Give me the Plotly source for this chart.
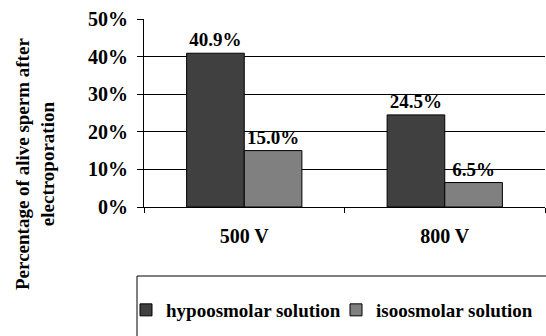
import plotly.graph_objects as go

categories = ["500 V", "800 V"]
hypo = [40.9, 24.5]
iso = [15.0, 6.5]
series_names = ["hypoosmolar solution", "isoosmolar solution"]
ytick_vals = [0, 10, 20, 30, 40, 50]
ytick_text = ["0%", "10%", "20%", "30%", "40%", "50%"]

FONT = "'Liberation Serif', 'DejaVu Serif', 'Times New Roman', serif"
W, H = 546, 336
L, R, T, B = 144, 1, 19, 129
pw, ph = W - L - R, H - T - B

def px(x):
    return (x - L) / pw

def py(y):
    return (H - B - y) / ph

fig = go.Figure()
for name, vals, col in [(series_names[0], hypo, "#404040"), (series_names[1], iso, "#808080")]:
    fig.add_trace(go.Bar(
        x=categories, y=vals, name=name,
        marker=dict(color=col, line=dict(color="#000000", width=1)),
        texttemplate="%{y:.1f}%", textposition="outside",
        textfont=dict(family=FONT, size=19, color="#000000", weight="bold"),
        cliponaxis=False,
    ))

fig.update_layout(
    width=W, height=H,
    margin=dict(l=L, r=R, t=T, b=B),
    paper_bgcolor="white", plot_bgcolor="white",
    barmode="group", bargap=0.425, bargroupgap=0,
    font=dict(family=FONT, size=19, color="#000000"),
    showlegend=True,
    legend=dict(
        orientation="h", x=px(131), xanchor="left", y=py(310), yanchor="middle",
        font=dict(family=FONT, size=19, color="#000000", weight="bold"),
        bgcolor="rgba(0,0,0,0)", borderwidth=0, entrywidth=165,
    ),
    xaxis=dict(
        showline=True, linecolor="#000000", linewidth=1,
        ticks="outside", ticklen=5, tickcolor="#000000", tickson="boundaries",
        ticklabelstandoff=11,
        tickfont=dict(family=FONT, size=20, color="#000000", weight="bold"),
        showgrid=False,
    ),
    yaxis=dict(
        range=[0, 50], tickvals=ytick_vals, ticktext=ytick_text,
        showline=True, linecolor="#000000", linewidth=1,
        ticks="outside", ticklen=6, tickcolor="#000000",
        ticklabelstandoff=5,
        tickfont=dict(family=FONT, size=20, color="#000000", weight="bold"),
        showgrid=False, zeroline=False,
        minor=dict(tickvals=[10, 20, 30, 40], showgrid=True, gridcolor="#000000", gridwidth=1, ticklen=0),
    ),
)

fig.add_annotation(
    text="Percentage of alive sperm after<br>electroporation",
    xref="paper", yref="paper", x=px(35), y=py(164),
    xanchor="center", yanchor="middle", textangle=-90, showarrow=False,
    font=dict(family=FONT, size=19, color="#000000", weight="bold"),
)
fig.add_shape(
    type="rect", xref="paper", yref="paper",
    x0=px(137), x1=px(560), y0=py(276), y1=py(350),
    line=dict(color="#000000", width=1), fillcolor="rgba(0,0,0,0)", layer="below",
)

fig.write_html("out.html")
